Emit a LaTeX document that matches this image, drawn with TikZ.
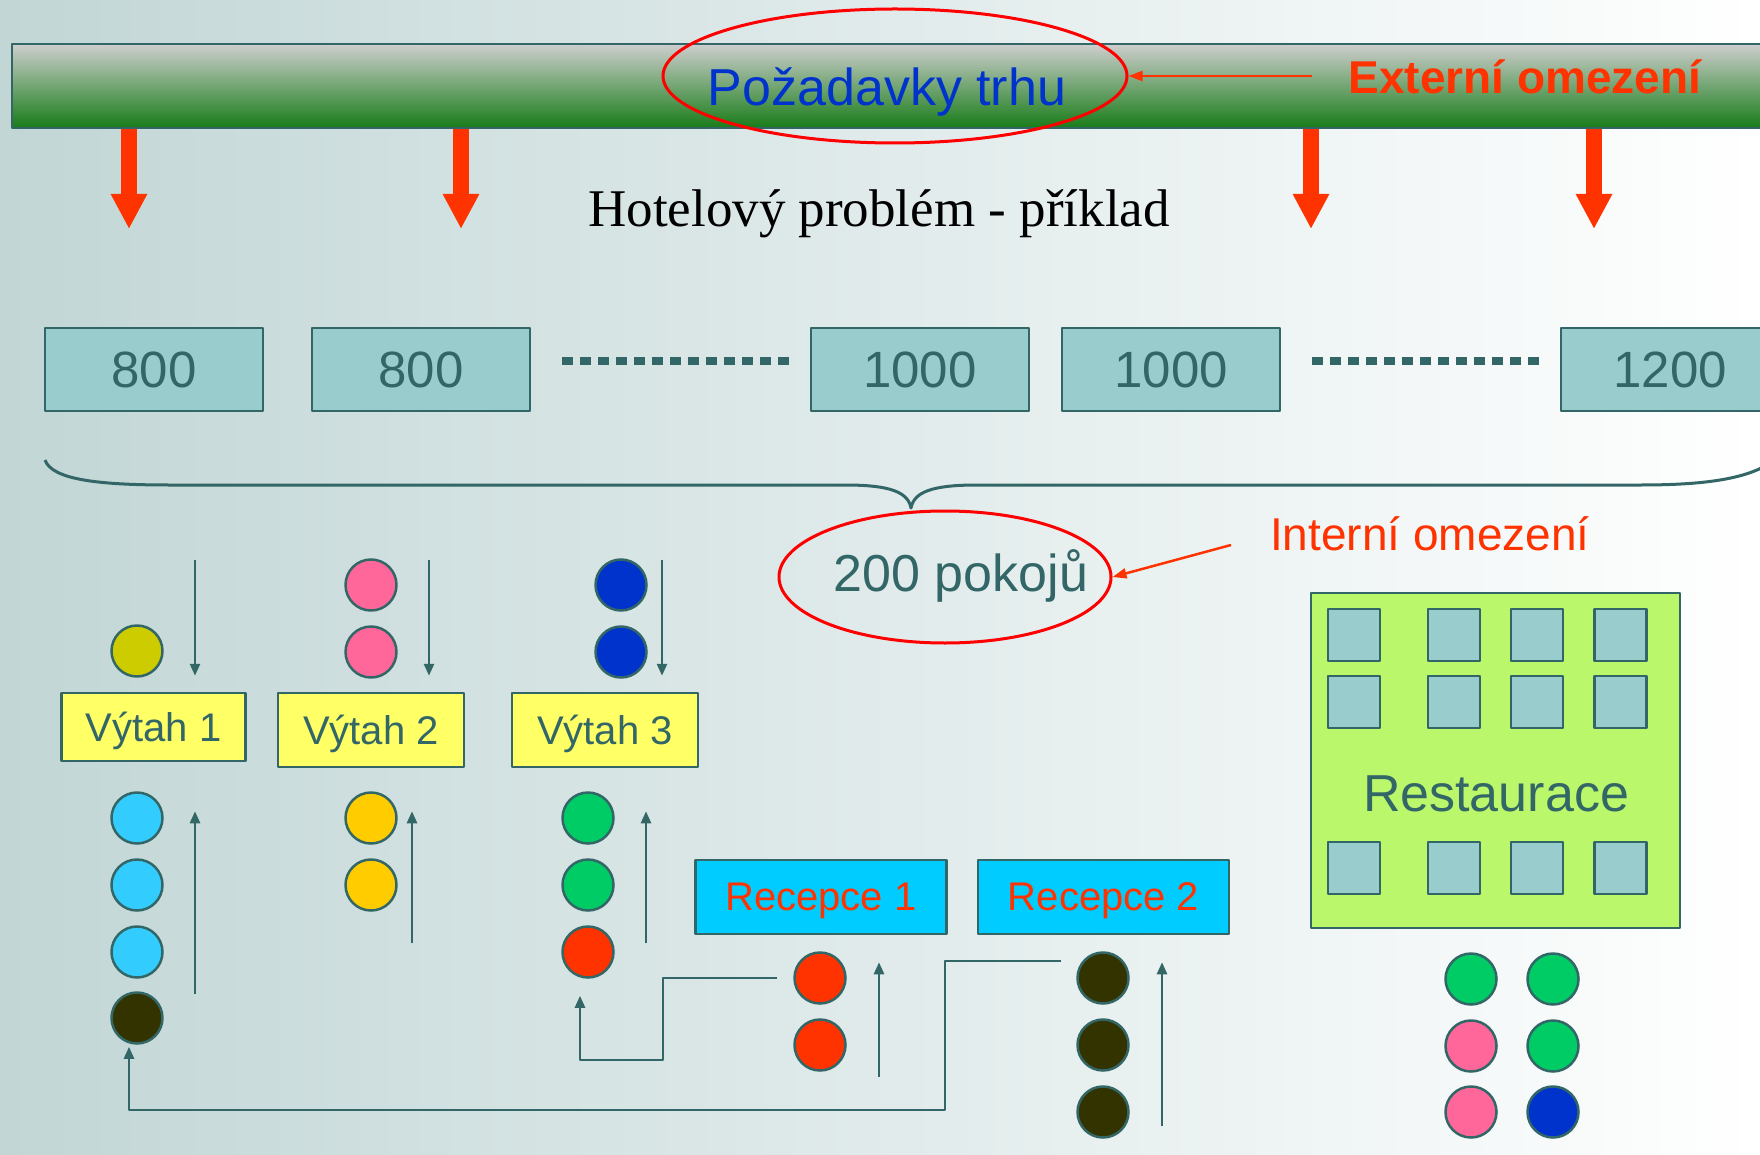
\documentclass[tikz,border=0pt]{standalone}
\usepackage{fontspec}
\setmainfont{Liberation Sans}
\newfontfamily\patkove{Liberation Serif}
\usetikzlibrary{arrows.meta,shapes.geometric}
\definecolor{tyrkys}{RGB}{51,102,102}
\definecolor{pokojfill}{RGB}{153,204,204}
\definecolor{zluta}{RGB}{255,255,102}
\definecolor{oliva}{RGB}{204,204,0}
\definecolor{ruzova}{RGB}{255,102,153}
\definecolor{modra}{RGB}{0,51,204}
\definecolor{azur}{RGB}{51,204,255}
\definecolor{oranz}{RGB}{255,204,0}
\definecolor{zelena}{RGB}{0,204,102}
\definecolor{cervena}{RGB}{255,51,0}
\definecolor{tmava}{RGB}{51,51,0}
\definecolor{recfill}{RGB}{0,204,255}
\definecolor{restfill}{RGB}{187,247,107}
\definecolor{pozadi}{RGB}{194,214,214}
\definecolor{pozadistred}{RGB}{220,234,234}
\definecolor{pruhseda}{RGB}{206,206,206}
\definecolor{pruhzel}{RGB}{24,124,24}
\newcommand{\vel}[1]{\fontsize{#1}{#1}\selectfont}
\begin{document}
\begin{tikzpicture}[x=1pt, y=-1pt, line join=round, >=Stealth,
	pokoj/.style={draw=tyrkys, line width=2.5pt, fill=pokojfill, text=tyrkys, minimum width=218pt, minimum height=83pt, font=\vel{51}},
	vytah/.style={draw=tyrkys, line width=2.5pt, fill=zluta, text=tyrkys, minimum height=74pt, text depth=0pt, font=\vel{40}},
	recepce/.style={draw=tyrkys, line width=2.5pt, fill=recfill, text=cervena, minimum width=251pt, minimum height=74pt, text depth=0pt, font=\vel{40}},
	kul/.style={circle, draw=tyrkys, line width=2.5pt, minimum size=51pt, inner sep=0pt},
	okno/.style={draw=tyrkys, line width=2.5pt, fill=pokojfill, minimum size=52pt, inner sep=0pt},
	tok/.style={draw=tyrkys, line width=2.5pt, -{Triangle[width=10pt,length=12pt]}},
	tecky/.style={draw=tyrkys, line width=8pt, dash pattern=on 11pt off 7pt},
	poptavka/.style={draw=cervena, line width=16pt, -{Triangle[width=34pt,length=35pt]}},
	ukazatel/.style={draw=cervena, line width=2.5pt, -{Triangle[width=10pt,length=14pt]}}]
	\useasboundingbox (0,0) rectangle (1760,1155);
	\shade[left color=pozadi, middle color=pozadistred, right color=white] (0,0) rectangle (1760,1155);
	\node[anchor=north west, draw=tyrkys, line width=2pt, top color=pruhseda, bottom color=pruhzel, minimum width=1775pt, minimum height=84pt, inner sep=0pt] (pruh) at (11,43) {};
	\node[ellipse, draw=red, line width=3pt, minimum width=464pt, minimum height=134pt] (trh) at (895,76) {};
	\node[text=modra, font=\vel{52}, inner sep=0pt] (trhtext) at (887,92) {Požadavky trhu};
	\node[text=cervena, font=\bfseries\vel{46}, inner sep=0pt] (extern) at (1525,77) {Externí omezení};
	\draw[ukazatel] ([xshift=-36pt,yshift=1pt]extern.west) -- (trh.east);
	\foreach \x in {129,461,1311,1594} {
		\draw[poptavka] (\x,0 |- pruh.south) -- ++(0,100);
	}
	\node[font=\patkove\vel{53}, inner sep=0pt] (nadpis) at (879,214) {Hotelový problém - příklad};
	\foreach \n/\x/\cislo in {1/154/800, 2/421/800, 3/920/1000, 4/1171/1000, 5/1670/1200} {
		\node[pokoj] (p\n) at (\x,369.5) {\cislo};
	}
	\draw[tecky] ([xshift=31pt,yshift=9pt]p2.east) -- ([xshift=-16pt,yshift=9pt]p3.west);
	\draw[tecky] ([xshift=31pt,yshift=9pt]p4.east) -- ([xshift=-16pt,yshift=9pt]p5.west);
	\draw[tyrkys, line width=3pt] (45,460) .. controls (52,480) and (100,485) .. (170,485) -- (845,485) .. controls (890,485) and (908,492) .. (911,508) .. controls (914,492) and (932,485) .. (977,485) -- (1640,485) .. controls (1710,485) and (1750,478) .. (1775,460);
	\node[ellipse, draw=red, line width=3pt, minimum width=332pt, minimum height=132pt] (kapac) at (945,577) {};
	\node[text=tyrkys, font=\vel{52}, inner sep=0pt] (pokoje) at (961,576) {200 pokojů};
	\node[text=cervena, font=\vel{46}, inner sep=0pt] (intern) at (1430,534) {Interní omezení};
	\draw[ukazatel] ([xshift=-39pt,yshift=-11pt]intern.west) -- (kapac.east);
	\node[vytah, minimum width=184pt, minimum height=68pt] (vyt1) at (153.5,727) {Výtah 1};
	\node[vytah, minimum width=186pt] (vyt2) at (371,730) {Výtah 2};
	\node[vytah, minimum width=186pt] (vyt3) at (605,730) {Výtah 3};
	\node[recepce] (rec1) at (821,897) {Recepce 1};
	\node[recepce] (rec2) at (1103.5,897) {Recepce 2};
	\draw[tok] ([xshift=41.5pt,yshift=132pt]vyt1.north) -- ([xshift=41.5pt,yshift=16pt]vyt1.north);
	\draw[tok] ([xshift=41.5pt,yshift=-232pt]vyt1.south) -- ([xshift=41.5pt,yshift=-49pt]vyt1.south);
	\foreach \v/\d in {vyt2/58, vyt3/57} {
		\draw[tok] ([xshift=\d pt,yshift=132pt]\v.north) -- ([xshift=\d pt,yshift=16pt]\v.north);
		\draw[tok] ([xshift=41pt,yshift=-175pt]\v.south) -- ([xshift=41pt,yshift=-43pt]\v.south);
	}
	\draw[tok] ([xshift=58pt,yshift=-142pt]rec1.south) -- ([xshift=58pt,yshift=-27pt]rec1.south);
	\draw[tok] ([xshift=58.5pt,yshift=-191pt]rec2.south) -- ([xshift=58.5pt,yshift=-27pt]rec2.south);
	\node[kul, fill=oliva] (v1a) at (137,651) {};
	\foreach \y [count=\i] in {818,885,952} \node[kul, fill=azur] (v1b\i) at (137,\y) {};
	\node[kul, fill=tmava] (v1d) at (137,1018) {};
	\foreach \y [count=\i] in {585,652} \node[kul, fill=ruzova] (v2a\i) at (371,\y) {};
	\foreach \y [count=\i] in {818,885} \node[kul, fill=oranz] (v2b\i) at (371,\y) {};
	\foreach \y [count=\i] in {585,652} \node[kul, fill=modra] (v3a\i) at (621,\y) {};
	\foreach \y [count=\i] in {818,885} \node[kul, fill=zelena] (v3b\i) at (588,\y) {};
	\node[kul, fill=cervena] (v3r) at (588,952) {};
	\foreach \y [count=\i] in {978,1045} \node[kul, fill=cervena] (r1k\i) at (820,\y) {};
	\foreach \y [count=\i] in {978,1045,1112} \node[kul, fill=tmava] (r2k\i) at (1103,\y) {};
	\coordinate (zlom1) at (663,1060);
	\coordinate (zlom2) at (945,1110);
	\draw[tok] ([xshift=-16pt]r1k1.west) -| (zlom1) -| ([xshift=-8pt,yshift=-17pt]v3r.south);
	\draw[tok] ([xshift=-15pt,yshift=17pt]r2k1.west) -| (zlom2) -| ([xshift=-8pt,yshift=-2pt]v1d.south);
	\node[draw=tyrkys, line width=2pt, fill=restfill, minimum width=369pt, minimum height=335pt] (rest) at (1495.5,760.5) {};
	\foreach \x [count=\i] in {1354,1454,1537,1620.5} {
		\foreach \y [count=\j] in {635,702,868} \node[okno] (o\i\j) at (\x,\y) {};
	}
	\node[text=tyrkys, font=\vel{52}, inner sep=0pt] (restnazev) at (1496,794) {Restaurace};
	\foreach \y/\barva [count=\i] in {979/zelena, 1046/ruzova, 1112/ruzova} \node[kul, fill=\barva] (rl\i) at (1471,\y) {};
	\foreach \y/\barva [count=\i] in {979/zelena, 1046/zelena, 1112/modra} \node[kul, fill=\barva] (rp\i) at (1553,\y) {};
\end{tikzpicture}
\end{document}
